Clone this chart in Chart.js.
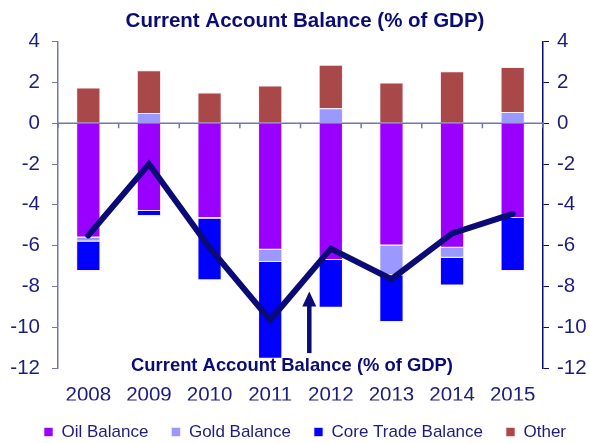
<!DOCTYPE html>
<html>
<head>
<meta charset="utf-8">
<script src="https://cdn.jsdelivr.net/npm/chart.js@4/dist/chart.umd.min.js"></script>
<style>
  body { margin: 0; background: #fff; }
  #wrap { width: 590px; height: 443px; }
</style>
</head>
<body>
<div id="wrap"><canvas id="chart" width="590" height="443"></canvas></div>
<script>
const years = ['2008', '2009', '2010', '2011', '2012', '2013', '2014', '2015'];
const oilBalance = [-5.6, -4.3, -4.65, -6.2, -6.7, -6.0, -6.1, -4.65];
const goldBalance = [-0.2, 0.5, -0.05, -0.6, 0.73, -1.45, -0.5, 0.55];
const coreTradeBalance = [-1.45, -0.25, -3.0, -4.75, -2.35, -2.3, -1.35, -2.6];
const otherBalance = [1.75, 2.1, 1.5, 1.85, 2.13, 2.0, 2.55, 2.2];
const currentAccount = [-5.5, -2.0, -6.1, -9.65, -6.15, -7.65, -5.4, -4.45];

const navy = '#0b0b78';
const textColor = '#1c1c7c';
const axisColor = '#7474b4';
const font = 'Liberation Sans, Arial, sans-serif';

// zero line with small tick marks between the categories, plus the arrow note
const extras = {
  id: 'extras',
  afterDatasetsDraw(chart) {
    const { ctx, chartArea, scales } = chart;
    const x = scales.x, y = scales.y;
    const y0 = y.getPixelForValue(0);
    const step = x.getPixelForValue(1) - x.getPixelForValue(0);
    ctx.save();
    ctx.strokeStyle = axisColor;
    ctx.lineWidth = 1.5;
    ctx.beginPath();
    ctx.moveTo(chartArea.left, y0);
    ctx.lineTo(chartArea.right, y0);
    for (let i = 0; i <= years.length; i++) {
      const px = x.getPixelForValue(0) - step / 2 + i * step;
      ctx.moveTo(px, y0);
      ctx.lineTo(px, y0 + 5);
    }
    ctx.stroke();
    ctx.restore();
  },
  afterDraw(chart) {
    const { ctx, scales } = chart;
    const x = scales.x, y = scales.y;
    const step = x.getPixelForValue(1) - x.getPixelForValue(0);
    const ax = x.getPixelForValue(3) + step * 0.645;
    const tip = y.getPixelForValue(-8.25);
    const base = y.getPixelForValue(-11.27);
    ctx.save();
    ctx.strokeStyle = navy;
    ctx.fillStyle = navy;
    ctx.lineWidth = 4.5;
    ctx.beginPath();
    ctx.moveTo(ax, base);
    ctx.lineTo(ax, tip + 12);
    ctx.stroke();
    ctx.beginPath();
    ctx.moveTo(ax, tip);
    ctx.lineTo(ax - 7, tip + 15);
    ctx.lineTo(ax + 7, tip + 15);
    ctx.closePath();
    ctx.fill();
    ctx.font = 'bold 18.4px ' + font;
    ctx.textAlign = 'center';
    ctx.textBaseline = 'middle';
    ctx.fillText('Current Account Balance (% of GDP)', x.getPixelForValue(3) + step * 0.36, y.getPixelForValue(-11.9));
    ctx.restore();
  }
};

const barBorder = 'rgba(255,230,240,0.7)';

new Chart(document.getElementById('chart'), {
  data: {
    labels: years,
    datasets: [
      { type: 'line', label: 'Current Account Balance', data: currentAccount, borderColor: navy,
        borderWidth: 6, pointRadius: 0, tension: 0, borderJoinStyle: 'miter', borderCapStyle: 'round',
        order: 0, stack: 'line' },
      { type: 'bar', label: 'Oil Balance', data: oilBalance, backgroundColor: '#9900ff',
        borderColor: barBorder, borderWidth: 1, order: 1, stack: 'a' },
      { type: 'bar', label: 'Gold Balance', data: goldBalance, backgroundColor: '#9999ff',
        borderColor: barBorder, borderWidth: 1, order: 1, stack: 'a' },
      { type: 'bar', label: 'Core Trade Balance', data: coreTradeBalance, backgroundColor: '#0000ff',
        borderColor: barBorder, borderWidth: 1, order: 1, stack: 'a' },
      { type: 'bar', label: 'Other', data: otherBalance, backgroundColor: '#a84848',
        borderColor: barBorder, borderWidth: 1, order: 1, stack: 'a' }
    ]
  },
  options: {
    responsive: false,
    animation: false,
    categoryPercentage: 1,
    barPercentage: 0.4,
    layout: { padding: { left: 10, right: -10, top: 0, bottom: -7.5 } },
    plugins: {
      title: {
        display: true,
        text: 'Current Account Balance (% of GDP)',
        color: navy,
        font: { family: font, size: 20.5, weight: 'bold' },
        padding: { top: 9, bottom: 8 }
      },
      legend: {
        position: 'bottom',
        labels: {
          filter: item => item.text !== 'Current Account Balance',
          color: textColor,
          boxWidth: 9,
          boxHeight: 9,
          padding: 23,
          font: { family: font, size: 17 }
        }
      },
      tooltip: { enabled: false }
    },
    scales: {
      x: {
        stacked: true,
        grid: { display: false, drawTicks: true, tickLength: 15 },
        border: { display: false },
        ticks: { color: textColor, font: { family: font, size: 20.5 }, padding: 0 },
        afterFit: scale => { scale.height = 32.5; }
      },
      y: {
        stacked: true,
        position: 'left',
        min: -12, max: 4,
        ticks: { stepSize: 2, color: textColor, font: { family: font, size: 20.5 }, padding: 12 },
        grid: { drawOnChartArea: false, drawTicks: true, tickLength: 6, color: axisColor },
        border: { color: axisColor, width: 1.5 },
        afterFit: scale => { scale.width = 48; }
      },
      y2: {
        position: 'right',
        min: -12, max: 4,
        ticks: { stepSize: 2, color: textColor, font: { family: font, size: 20.5 }, padding: 8 },
        grid: { drawOnChartArea: false, drawTicks: true, tickLength: 6, color: navy },
        border: { color: navy, width: 1.5 },
        afterFit: scale => { scale.width = 57; }
      }
    }
  },
  plugins: [extras]
});
</script>
</body>
</html>
